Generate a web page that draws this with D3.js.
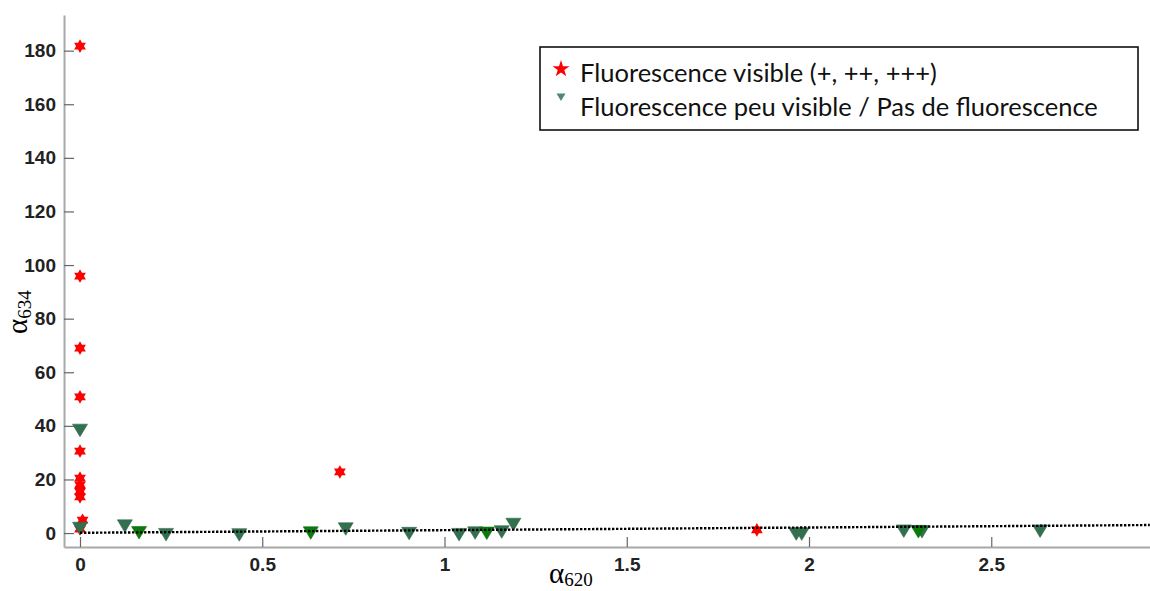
<!DOCTYPE html>
<html><head><meta charset="utf-8">
<script src="https://cdn.jsdelivr.net/npm/d3@7"></script>
<style>body{margin:0;background:#fff}</style>
</head><body>
<svg id="chart" width="1150" height="591"></svg>
<script>
// ---- data ----
const xTicks = [0, 0.5, 1, 1.5, 2, 2.5];
const xTickLabels = ["0", "0.5", "1", "1.5", "2", "2.5"];
const yTicks = [0, 20, 40, 60, 80, 100, 120, 140, 160, 180];
const yTickLabels = ["0", "20", "40", "60", "80", "100", "120", "140", "160", "180"];

// Fluorescence visible (red hexagram)
const starX = [0, 0, 0, 0, 0, 0, 0, 0, 0, 0.007, 0, 0.713, 1.857];
const starY = [181.7, 95.9, 69, 50.8, 30.6, 20.5, 18, 15.5, 13.5, 4.8, 1.5, 22.8, 1.2];

// Low / no fluorescence (dark teal triangles)
const tealX = [0, 0, 0.123, 0.236, 0.437, 0.729, 0.903, 1.04, 1.084, 1.157, 1.189, 1.965, 1.98, 2.26, 2.31, 2.634];
const tealY = [38.4, 1.8, 2.7, -0.5, -0.6, 1.6, -0.1, -0.5, 0.1, 0.5, 3.3, -0.3, -0.3, 0.8, 0.6, 0.8];

// Low / no fluorescence (green triangles)
const greenX = [0.162, 0.633, 1.116, 2.30];
const greenY = [0.2, 0.1, 0.0, 0.6];

// dotted fit line end points
const fitX = [0, 2.935];
const fitY = [0.1, 3.0];

const legendLabels = ["Fluorescence visible (+, ++, +++)", "Fluorescence peu visible / Pas de fluorescence"];

// ---- drawing ----
const svg = d3.select("#chart");
const x = d3.scaleLinear().domain([-0.0439, 2.9355]).range([64, 1150]);
const y = d3.scaleLinear().domain([-5.2, 193.3]).range([547, 15]);

const tickFont = "'Liberation Sans', Arial, sans-serif";

const yAxis = svg.append("g").attr("transform", "translate(64,0)")
  .call(d3.axisLeft(y).tickValues(yTicks).tickFormat((d, i) => yTickLabels[i])
    .tickSizeInner(-10).tickSizeOuter(0).tickPadding(8));
const xAxis = svg.append("g").attr("transform", "translate(0,547)")
  .call(d3.axisBottom(x).tickValues(xTicks).tickFormat((d, i) => xTickLabels[i])
    .tickSizeInner(-10).tickSizeOuter(0).tickPadding(11));

[yAxis, xAxis].forEach(g => {
  g.select(".domain").attr("stroke", "#a8a8a8").attr("stroke-width", 2);
  g.selectAll(".tick line").attr("stroke", "#666").attr("stroke-width", 1.2);
  g.selectAll(".tick text").attr("fill", "#222").attr("font-family", tickFont)
    .attr("font-weight", "bold").attr("font-size", 19);
});

// markers
function hexagram(r) {
  const ri = r / Math.sqrt(3);
  const pts = [];
  for (let i = 0; i < 12; i++) {
    const a = -Math.PI / 2 + i * Math.PI / 6;
    const rr = i % 2 === 0 ? r : ri;
    pts.push([rr * Math.cos(a), rr * Math.sin(a)]);
  }
  return "M" + pts.map(p => p.join(",")).join("L") + "Z";
}
const triPath = "M-7.5,-6L7.5,-6L0,6.5Z";

const starData = starX.map((v, i) => [v, starY[i]]);
const tealData = tealX.map((v, i) => [v, tealY[i]]);
const greenData = greenX.map((v, i) => [v, greenY[i]]);

svg.append("g").selectAll("path").data(starData).join("path")
  .attr("d", hexagram(6.8))
  .attr("transform", d => `translate(${x(d[0])},${y(d[1])})`)
  .attr("fill", "#ff0000");

svg.append("g").selectAll("path").data(tealData).join("path")
  .attr("d", triPath)
  .attr("transform", d => `translate(${x(d[0])},${y(d[1])})`)
  .attr("fill", "#33704f").attr("stroke", "#2f6a4a").attr("stroke-width", 0.6);

svg.append("g").selectAll("path").data(greenData).join("path")
  .attr("d", triPath)
  .attr("transform", d => `translate(${x(d[0])},${y(d[1])})`)
  .attr("fill", "#0a7a0a").attr("stroke", "#0a700a").attr("stroke-width", 0.6);

// dotted fit line
svg.append("path")
  .datum(fitX.map((v, i) => [v, fitY[i]]))
  .attr("d", d3.line().x(d => x(d[0])).y(d => y(d[1])))
  .attr("fill", "none").attr("stroke", "#000").attr("stroke-width", 2.4)
  .attr("stroke-dasharray", "2.4,1.6");

// axis labels
const serif = "'Liberation Serif', 'Times New Roman', serif";
const xl = svg.append("text").attr("x", 549).attr("y", 583)
  .attr("font-family", serif).attr("font-size", 29).attr("fill", "#000");
xl.append("tspan").text("α");
xl.append("tspan").attr("dy", 3).attr("font-size", 19).text("620");

const yl = svg.append("text").attr("transform", "translate(27,334) rotate(-90)")
  .attr("font-family", serif).attr("font-size", 29).attr("fill", "#000");
yl.append("tspan").text("α");
yl.append("tspan").attr("dy", 4).attr("font-size", 19).text("634");

// legend
const lg = svg.append("g");
lg.append("rect").attr("x", 540).attr("y", 47).attr("width", 598).attr("height", 83)
  .attr("fill", "#fff").attr("stroke", "#000").attr("stroke-width", 1.5);
lg.append("path").attr("d", d3.symbol(d3.symbolStar, 90)())
  .attr("transform", "translate(561,69)").attr("fill", "#ff0000");
lg.append("path").attr("d", "M-4.5,-3.5L4.5,-3.5L0,4Z")
  .attr("transform", "translate(561,97)").attr("fill", "#4f8a75");

const legFont = "Lato, 'Open Sans', sans-serif";
const t1 = lg.append("text").attr("x", 580).attr("y", 82).text(legendLabels[0])
  .attr("font-family", legFont).attr("font-size", 22).attr("fill", "#111");
const t2 = lg.append("text").attr("x", 580).attr("y", 116).text(legendLabels[1])
  .attr("font-family", legFont).attr("font-size", 22).attr("fill", "#111");
const w2 = t2.node().getComputedTextLength();
const fs = 22 * 518 / w2;
t1.attr("font-size", fs);
t2.attr("font-size", fs);
</script>
</body></html>
